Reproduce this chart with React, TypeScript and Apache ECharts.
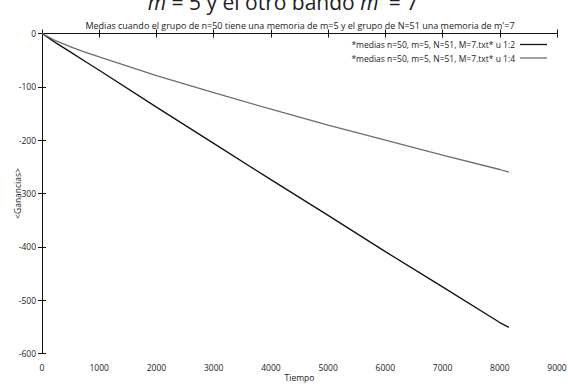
import React, { useEffect, useRef } from "react";
import * as echarts from "echarts";

const timeValues = [0, 250, 500, 750, 1000, 2000, 3000, 4000, 5000, 6000, 7000, 8000, 8160];
const serieCol2 = [0, -18, -35, -52, -69, -138, -206, -274, -341, -409, -475, -542, -551];
const serieCol4 = [0, -14, -25, -35, -44, -79, -111, -142, -172, -200, -228, -255, -260];
const xTicks = { min: 0, max: 9000, interval: 1000 };
const yTicks = { min: -600, max: 0, interval: 100 };
const legendNames = [
  "*medias n=50, m=5, N=51, M=7.txt* u 1:2",
  "*medias n=50, m=5, N=51, M=7.txt* u 1:4",
];
const titleText =
  "Medias cuando el grupo de n=50 tiene una memoria de m=5 y el grupo de N=51 una memoria de m'=7";

const FONT = "Open Sans";

export default function App() {
  const ref = useRef<HTMLDivElement>(null);
  useEffect(() => {
    document.body.style.margin = "0";
    const chart = echarts.init(ref.current!, null, { renderer: "svg" });
    const pairs = (ys: number[]) => timeValues.map((x, i) => [x, ys[i]]);
    const axisCommon = {
      axisLine: { show: true, lineStyle: { color: "#111", width: 1 } },
      axisTick: { show: true, inside: true, length: 4, lineStyle: { color: "#111", width: 1 } },
      splitLine: { show: false },
    };
    chart.setOption({
      animation: false,
      backgroundColor: "#fff",
      textStyle: { fontFamily: FONT },
      title: {
        text: titleText,
        left: 300,
        textAlign: "center",
        top: 21,
        padding: 0,
        textStyle: { fontSize: 9, fontWeight: "normal", color: "#222", fontFamily: FONT },
      },
      graphic: [
        {
          type: "text",
          x: 283,
          y: 2,
          style: {
            text: "{i|m} = 5 y el otro bando {i|m}′ = 7",
            align: "center",
            verticalAlign: "middle",
            fontSize: 21,
            fontFamily: FONT,
            fill: "#222",
            rich: { i: { fontStyle: "italic", fontSize: 21, fontFamily: FONT, fill: "#222" } },
          },
        },
      ],
      legend: {
        orient: "vertical",
        right: 21,
        top: 40,
        align: "right",
        icon: "rect",
        itemWidth: 27,
        itemHeight: 1.3,
        itemGap: 4.5,
        padding: 0,
        textStyle: { fontSize: 8.5, color: "#222", fontFamily: FONT },
        data: legendNames,
      },
      grid: { left: 42, right: 11, top: 33.5, bottom: 30.5, containLabel: false, outerBoundsMode: "none" },
      xAxis: [
        {
          type: "value",
          ...xTicks,
          name: "Tiempo",
          nameLocation: "middle",
          nameGap: 19,
          nameMoveOverlap: false,
          nameTextStyle: { fontSize: 8.5, color: "#222" },
          axisLabel: { fontSize: 8.5, color: "#222", margin: 9, formatter: (v: number) => String(v) },
          ...axisCommon,
        },
        {
          type: "value",
          ...xTicks,
          position: "top",
          axisLabel: { show: false },
          ...axisCommon,
        },
      ],
      yAxis: [
        {
          type: "value",
          ...yTicks,
          name: "<Ganancias>",
          nameLocation: "middle",
          nameGap: 20,
          nameMoveOverlap: false,
          nameTextStyle: { fontSize: 8.5, color: "#222" },
          axisLabel: { fontSize: 8.5, color: "#222", margin: 6, formatter: (v: number) => String(v) },
          ...axisCommon,
        },
        {
          type: "value",
          ...yTicks,
          position: "right",
          axisLabel: { show: false },
          ...axisCommon,
        },
      ],
      series: [
        {
          name: legendNames[0],
          type: "line",
          data: pairs(serieCol2),
          symbol: "none",
          lineStyle: { color: "#111", width: 1.3 },
          itemStyle: { color: "#111" },
        },
        {
          name: legendNames[1],
          type: "line",
          data: pairs(serieCol4),
          symbol: "none",
          lineStyle: { color: "#6e6e6e", width: 1.3 },
          itemStyle: { color: "#6e6e6e" },
        },
      ],
    });
    return () => chart.dispose();
  }, []);
  return <div ref={ref} style={{ width: 568, height: 384 }} />;
}
